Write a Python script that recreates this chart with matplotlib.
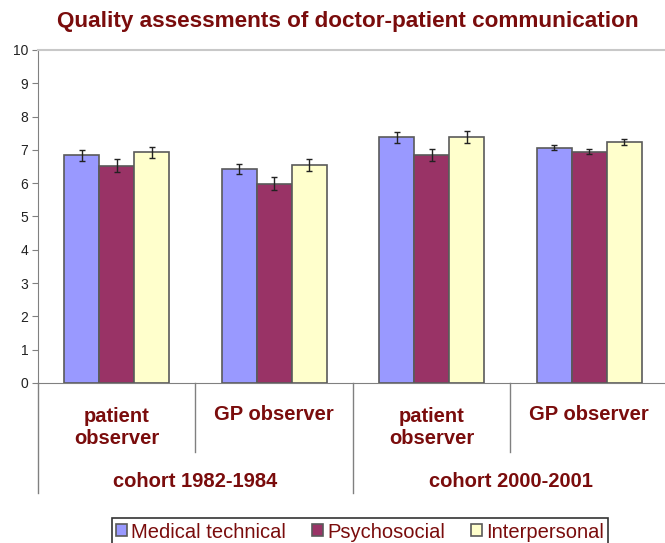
"""Quality assessments of doctor-patient communication - grouped bars with errors."""

import matplotlib.pyplot as plt
import numpy as np
from matplotlib.lines import Line2D

plt.rcParams["font.family"] = ["Liberation Sans", "DejaVu Sans"]

groups = ["patient\nobserver", "GP observer", "patient\nobserver", "GP observer"]
cohorts = ["cohort 1982-1984", "cohort 2000-2001"]
series = ["Medical technical", "Psychosocial", "Interpersonal"]

medical = [6.84, 6.42, 7.38, 7.07]
psycho = [6.53, 5.99, 6.85, 6.95]
inter = [6.93, 6.56, 7.39, 7.24]
medical_err = [0.17, 0.15, 0.16, 0.08]
psycho_err = [0.19, 0.20, 0.19, 0.07]
inter_err = [0.17, 0.18, 0.17, 0.08]

colors = ["#9999FF", "#993366", "#FFFFCC"]
label_color = "#7a0c0c"

fig = plt.figure(figsize=(6.65, 5.43), dpi=100)
ax = fig.add_axes([38 / 665, 160 / 543, 630 / 665, 333 / 543])

x = np.arange(len(groups)) + 0.5
width = 0.222
for k, (vals, errs) in enumerate(zip([medical, psycho, inter],
                                     [medical_err, psycho_err, inter_err])):
    ax.bar(x + (k - 1) * width, vals, width, color=colors[k], edgecolor="#5a5a5a",
           linewidth=1.2, label=series[k], zorder=2)
    ax.errorbar(x + (k - 1) * width, vals, yerr=errs, fmt="none", ecolor="#222222",
                elinewidth=1, capsize=2.5, capthick=1, zorder=3)

ax.set_xlim(0, 4)
ax.set_ylim(0, 10)
ax.set_yticks(range(0, 11))
ax.tick_params(axis="y", direction="out", length=4, color="#808080",
               labelsize=10, labelcolor="#222222", pad=3)
ax.set_xticks([])
ax.spines["right"].set_visible(False)
ax.spines["top"].set_color("#c8c8c8")
ax.spines["top"].set_linewidth(1.5)
ax.spines["left"].set_color("#808080")
ax.spines["bottom"].set_color("#808080")

# multi-level category axis below the plot
trans = ax.get_xaxis_transform()
for xi in [1, 3]:
    ax.add_line(Line2D([xi, xi], [0, -0.207], transform=trans, color="#808080",
                       linewidth=1, clip_on=False))
for xi in [0, 2]:
    ax.add_line(Line2D([xi, xi], [0, -0.33], transform=trans, color="#808080",
                       linewidth=1, clip_on=False))
for xi, lab in zip(x, groups):
    ypos = -0.134 if "\n" in lab else -0.096
    ax.text(xi, ypos, lab, transform=trans, ha="center", va="center",
            fontsize=14.5, fontweight="bold", color=label_color, linespacing=1.15)
for i, lab in enumerate(cohorts):
    ax.text(2 * i + 1, -0.297, lab, transform=trans, ha="center", va="center",
            fontsize=14.5, fontweight="bold", color=label_color)

fig.text(0.523, 1 - 22 / 543, "Quality assessments of doctor-patient communication",
         ha="center", va="center", fontsize=16.2, fontweight="bold", color=label_color)

leg = fig.legend(loc="center", bbox_to_anchor=(360 / 665, 11 / 543), ncol=3,
                 fontsize=14.5, frameon=True, fancybox=False, edgecolor="black",
                 handlelength=0.55, handleheight=0.55, handletextpad=0.2,
                 columnspacing=1.3, borderpad=0.2, borderaxespad=0)
leg.get_frame().set_linewidth(1.2)
for t in leg.get_texts():
    t.set_color(label_color)

fig.savefig("out.png", dpi=100)
